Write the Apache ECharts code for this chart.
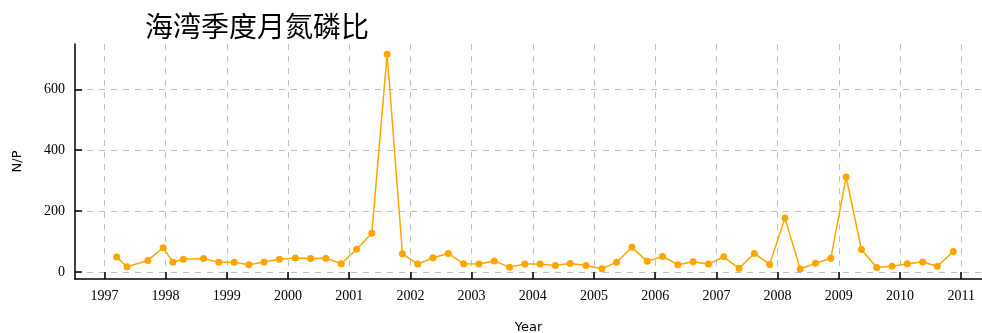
<!DOCTYPE html>
<html>
<head>
<meta charset="utf-8">
<script src="https://cdn.jsdelivr.net/npm/echarts@6/dist/echarts.min.js"></script>
<style>
  html, body { margin: 0; padding: 0; background: #fff; }
  #main { width: 982px; height: 333px; }
</style>
</head>
<body>
<div id="main"></div>
<script>
var dom = document.getElementById('main');
var myChart = echarts.init(dom);

// sample dates (decimal year) and N/P ratio
var dates = [
    1997.20, 1997.37, 1997.71, 1997.96, 1998.12, 1998.29, 1998.62, 1998.87,
    1999.12, 1999.36, 1999.61, 1999.86, 2000.12, 2000.37, 2000.62, 2000.87,
    2001.12, 2001.37, 2001.62, 2001.87, 2002.12, 2002.37, 2002.62, 2002.87,
    2003.12, 2003.37, 2003.62, 2003.87, 2004.12, 2004.37, 2004.61, 2004.87,
    2005.13, 2005.37, 2005.62, 2005.87, 2006.12, 2006.37, 2006.62, 2006.87,
    2007.12, 2007.37, 2007.62, 2007.87, 2008.12, 2008.37, 2008.62, 2008.87,
    2009.12, 2009.37, 2009.62, 2009.87, 2010.12, 2010.37, 2010.61, 2010.87
];
var ratio = [
    49, 17, 38, 80, 32, 42, 44, 32,
    32, 24, 33, 42, 46, 44, 45, 27,
    75, 127, 715, 60, 26, 47, 61, 27,
    26, 36, 16, 26, 26, 21, 28, 21,
    11, 32, 81, 35, 51, 24, 34, 26,
    50, 12, 61, 25, 177, 10, 29, 45,
    312, 74, 15, 19, 27, 33, 19, 67
];
var yearTicks = [1997, 1998, 1999, 2000, 2001, 2002, 2003, 2004, 2005, 2006, 2007, 2008, 2009, 2010, 2011];
var npTicks = [0, 200, 400, 600];

var seriesData = dates.map(function (d, i) {
    return [d, ratio[i]];
});

var serifFont = '"Liberation Serif", "DejaVu Serif", serif';

option = {
    animation: false,
    title: {
        text: '海湾季度月氮磷比',
        left: 140,
        top: 7,
        textStyle: {
            fontFamily: '"Noto Sans CJK SC", sans-serif',
            fontWeight: 'normal',
            fontSize: 28,
            color: '#000'
        }
    },
    grid: {
        left: 75,
        right: 0,
        top: 44,
        bottom: 54,
        containLabel: false,
        outerBoundsMode: 'none'
    },
    xAxis: {
        type: 'value',
        min: 1996.52,
        max: 2011.34,
        name: 'Year',
        nameLocation: 'middle',
        nameGap: 42,
        nameTextStyle: {
            fontFamily: '"DejaVu Sans", sans-serif',
            fontSize: 13,
            color: '#000'
        },
        axisLine: {
            show: true,
            onZero: false,
            lineStyle: { color: '#000', width: 1.5 }
        },
        axisTick: {
            show: true,
            inside: true,
            length: 7,
            customValues: yearTicks,
            lineStyle: { color: '#000', width: 1.5 }
        },
        axisLabel: {
            customValues: yearTicks,
            margin: 10,
            fontFamily: serifFont,
            fontSize: 14,
            color: '#000',
            formatter: function (v) { return String(v); }
        },
        splitLine: {
            show: true,
            lineStyle: { color: '#c0c0c0', type: [6, 6], width: 1 }
        }
    },
    yAxis: {
        type: 'value',
        min: -23,
        max: 749,
        name: 'N/P',
        nameLocation: 'middle',
        nameGap: 51,
        nameRotate: 90,
        nameTextStyle: {
            fontFamily: '"DejaVu Sans", sans-serif',
            fontSize: 13,
            color: '#000'
        },
        axisLine: {
            show: true,
            onZero: false,
            lineStyle: { color: '#000', width: 1.5 }
        },
        axisTick: {
            show: true,
            inside: true,
            length: 7,
            customValues: npTicks,
            lineStyle: { color: '#000', width: 1.5 }
        },
        axisLabel: {
            customValues: npTicks,
            margin: 10,
            fontFamily: serifFont,
            fontSize: 14,
            color: '#000'
        },
        splitLine: {
            show: true,
            lineStyle: { color: '#c0c0c0', type: [6, 6], width: 1 }
        }
    },
    series: [{
        name: 'N/P',
        type: 'line',
        data: seriesData,
        symbol: 'circle',
        symbolSize: 7,
        itemStyle: { color: '#ffa500' },
        lineStyle: { color: '#ffa500', width: 1.5 }
    }]
};

if (option && typeof option === 'object') {
    myChart.setOption(option, true);
}
</script>
</body>
</html>
